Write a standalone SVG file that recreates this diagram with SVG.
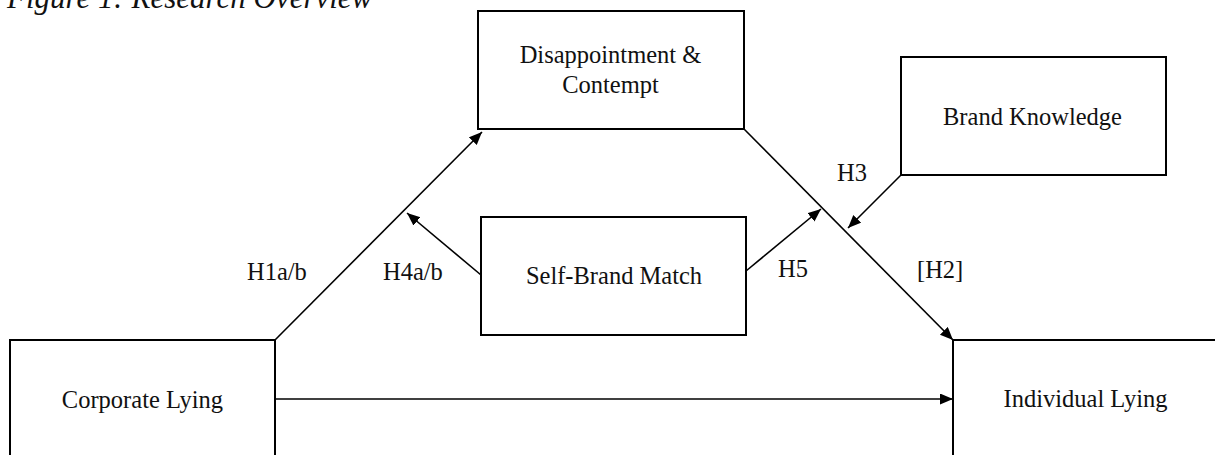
<svg xmlns="http://www.w3.org/2000/svg" width="1215" height="455" viewBox="0 0 1215 455">
  <style>
    .box { fill: #ffffff; stroke: #000000; stroke-width: 2; }
    .t { font-family: "Liberation Serif", "Times New Roman", serif; font-size: 24.5px; fill: #111111; }
    .c { text-anchor: middle; }
    .title { font-family: "Liberation Serif", "Times New Roman", serif; font-size: 31px; font-style: italic; fill: #111111; }
    .edge { fill: none; stroke: #000000; stroke-width: 1.6; }
  </style>
  <defs>
    <marker id="arr" markerUnits="userSpaceOnUse" markerWidth="14" markerHeight="12" refX="13" refY="5.5" orient="auto">
      <path d="M0,0 L13,5.5 L0,11 z" fill="#000000"/>
    </marker>
  </defs>
  <rect width="1215" height="455" fill="#ffffff"/>
  <text class="title" x="7" y="8">Figure 1: Research Overview</text>

  <g id="connectors">
    <line class="edge" x1="275" y1="340" x2="482" y2="132" marker-end="url(#arr)"/>
    <line class="edge" x1="744" y1="129" x2="953" y2="340" marker-end="url(#arr)"/>
    <line class="edge" x1="275" y1="399" x2="953" y2="399" marker-end="url(#arr)"/>
    <line class="edge" x1="481" y1="275" x2="407" y2="213" marker-end="url(#arr)"/>
    <line class="edge" x1="746" y1="271" x2="821" y2="209" marker-end="url(#arr)"/>
    <line class="edge" x1="901" y1="175" x2="848" y2="228" marker-end="url(#arr)"/>
    <text class="t" x="247" y="280">H1a/b</text>
    <text class="t" x="383" y="280">H4a/b</text>
    <text class="t" x="778" y="277">H5</text>
    <text class="t" x="837" y="181">H3</text>
    <text class="t" x="917" y="278">[H2]</text>
  </g>

  <g id="disappointment">
    <rect class="box" x="478" y="11" width="266" height="118"/>
    <text class="t c" x="610.5" y="63">Disappointment &amp;</text>
    <text class="t c" x="610.5" y="93">Contempt</text>
  </g>
  <g id="brand-knowledge">
    <rect class="box" x="901" y="57" width="265" height="118"/>
    <text class="t c" x="1032.5" y="125">Brand Knowledge</text>
  </g>
  <g id="self-brand-match">
    <rect class="box" x="481" y="217" width="265" height="118"/>
    <text class="t c" x="614" y="284">Self-Brand Match</text>
  </g>
  <g id="corporate-lying">
    <rect class="box" x="10" y="340" width="265" height="140"/>
    <text class="t c" x="142.5" y="408">Corporate Lying</text>
  </g>
  <g id="individual-lying">
    <rect class="box" x="953" y="340" width="280" height="140"/>
    <text class="t c" x="1085.5" y="407">Individual Lying</text>
  </g>
</svg>
